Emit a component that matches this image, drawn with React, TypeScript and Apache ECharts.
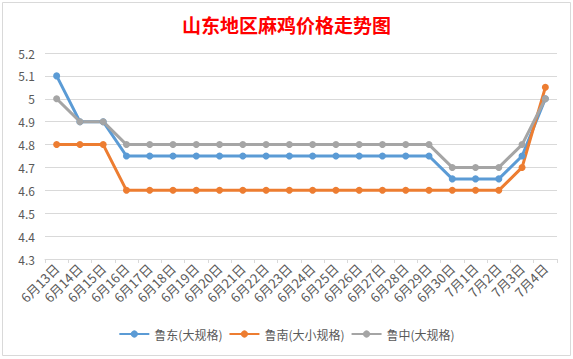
import React, { useEffect, useRef } from "react";
import * as echarts from "echarts";

const categories = [
  "6月13日", "6月14日", "6月15日", "6月16日", "6月17日", "6月18日", "6月19日", "6月20日",
  "6月21日", "6月22日", "6月23日", "6月24日", "6月25日", "6月26日", "6月27日", "6月28日",
  "6月29日", "6月30日", "7月1日", "7月2日", "7月3日", "7月4日",
];

const ludong = [5.1, 4.9, 4.9, 4.75, 4.75, 4.75, 4.75, 4.75, 4.75, 4.75, 4.75, 4.75, 4.75, 4.75, 4.75, 4.75, 4.75, 4.65, 4.65, 4.65, 4.75, 5.0];
const lunan = [4.8, 4.8, 4.8, 4.6, 4.6, 4.6, 4.6, 4.6, 4.6, 4.6, 4.6, 4.6, 4.6, 4.6, 4.6, 4.6, 4.6, 4.6, 4.6, 4.6, 4.7, 5.05];
const luzhong = [5.0, 4.9, 4.9, 4.8, 4.8, 4.8, 4.8, 4.8, 4.8, 4.8, 4.8, 4.8, 4.8, 4.8, 4.8, 4.8, 4.8, 4.7, 4.7, 4.7, 4.8, 5.0];

const seriesNames = ["鲁东(大规格)", "鲁南(大小规格)", "鲁中(大规格)"];
const colors = ["#5B9BD5", "#ED7D31", "#A5A5A5"];

const FONT = "'Noto Sans CJK SC', 'Noto Sans', sans-serif";

export default function App() {
  const ref = useRef<HTMLDivElement>(null);
  useEffect(() => {
    if (!ref.current) return;
    const chart = echarts.init(ref.current, undefined, { renderer: "svg" });
    const mk = (name: string, data: number[], color: string) => ({
      name,
      type: "line",
      data,
      symbol: "circle",
      symbolSize: 7,
      lineStyle: { width: 3, color },
      itemStyle: { color },
    });
    chart.setOption({
      animation: false,
      backgroundColor: "#ffffff",
      textStyle: { fontFamily: FONT },
      title: {
        text: "山东地区麻鸡价格走势图",
        left: "center",
        top: 10,
        textStyle: { color: "#FF0000", fontSize: 19, fontWeight: "bold", fontFamily: FONT },
      },
      graphic: [
        {
          type: "rect",
          shape: { x: 2.5, y: 2.5, width: 568, height: 353 },
          style: { fill: "none", stroke: "#D9D9D9", lineWidth: 1 },
          silent: true,
        },
      ],
      legend: {
        bottom: 14,
        left: "center",
        itemWidth: 30,
        itemHeight: 9,
        itemGap: 6,
        textStyle: { color: "#595959", fontSize: 12, fontFamily: FONT },
        data: seriesNames,
      },
      grid: { left: 45, right: 16, top: 53, bottom: 100 },
      xAxis: {
        type: "category",
        data: categories,
        boundaryGap: true,
        axisLine: { lineStyle: { color: "#D9D9D9" } },
        axisTick: { show: true, lineStyle: { color: "#D9D9D9" }, length: 4 },
        axisLabel: { rotate: 45, color: "#595959", fontSize: 13, interval: 0, margin: 7, fontFamily: FONT },
      },
      yAxis: {
        type: "value",
        min: 4.3,
        max: 5.2,
        interval: 0.1,
        axisLine: { show: false },
        axisTick: { show: false },
        splitLine: { lineStyle: { color: "#D9D9D9" } },
        axisLabel: {
          color: "#595959",
          fontSize: 12,
          margin: 10,
          fontFamily: FONT,
          formatter: (v: number) => String(parseFloat(v.toFixed(1))),
        },
      },
      series: [
        mk(seriesNames[0], ludong, colors[0]),
        mk(seriesNames[1], lunan, colors[1]),
        mk(seriesNames[2], luzhong, colors[2]),
      ],
    });
    return () => chart.dispose();
  }, []);
  return <div ref={ref} style={{ position: "fixed", left: 0, top: 0, width: 573, height: 359 }} />;
}
